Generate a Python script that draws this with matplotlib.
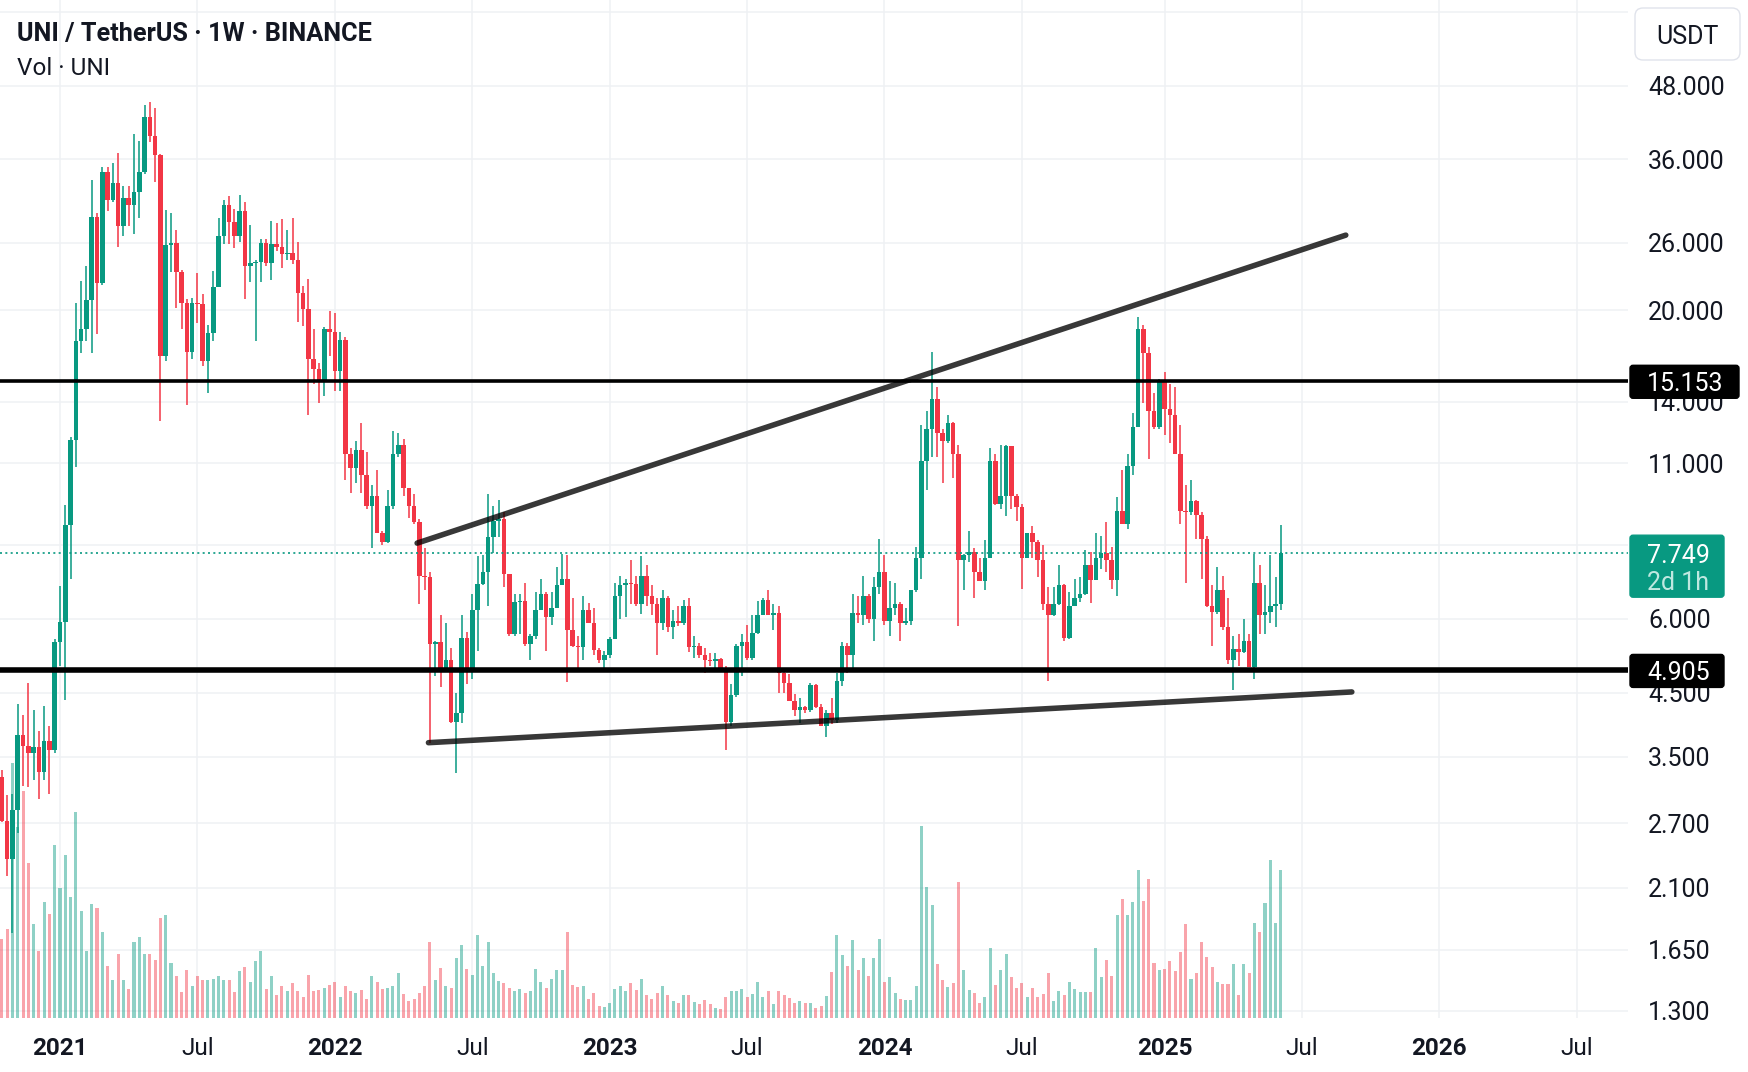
import matplotlib
matplotlib.use("Agg")
import matplotlib.pyplot as plt
import matplotlib.dates as mdates
from matplotlib.patches import FancyBboxPatch
from matplotlib.ticker import NullLocator
import numpy as np
import pandas as pd

W, H = 1748, 1072
PANE_R, PANE_B = 1628, 1018

UP = "#089981"
DOWN = "#F23645"
TXT = "#131722"
GRID = "#eff1f4"

# weekly candles, first bar on 2020-10-19
start = "2020-10-19"

opens = [
    3.24, 2.73, 2.35, 2.84, 3.81, 3.65, 3.55, 3.64, 3.30, 3.73,
    3.60, 5.48, 5.92, 8.65, 12.03, 17.7, 18.6, 20.8, 28.8, 22.2,
    34.3, 30.7, 32.9, 27.8, 31.0, 30.1, 31.7, 34.3, 42.5, 39.4,
    36.6, 16.7, 25.8, 26.0, 23.2, 20.6, 17.0, 20.6, 20.5, 16.4,
    18.3, 21.9, 26.7, 30.2, 28.2, 26.7, 29.4, 23.8, 24.0, 24.1,
    26.0, 24.0, 25.9, 25.6, 24.9, 25.0, 24.3, 21.4, 20.1, 16.5,
    15.9, 15.1, 18.6, 18.4, 15.8, 17.8, 11.4, 10.8, 11.6, 10.5,
    9.3, 9.7, 8.4, 8.1, 9.3, 11.4, 11.8, 10.0, 9.3, 8.75,
    7.09, 7.05, 5.43, 5.48, 4.9, 5.1, 4.01, 4.15, 5.56, 4.9,
    6.2, 6.88, 7.2, 8.25, 8.8, 8.85, 7.15, 5.65, 6.4, 6.42,
    5.43, 5.6, 6.2, 6.6, 6.05, 6.25, 6.85, 7.0, 5.75, 5.4,
    5.37, 6.2, 5.9, 5.32, 5.1, 5.2, 5.55, 6.55, 6.85, 6.9,
    6.88, 6.35, 7.1, 6.55, 6.35, 5.9, 6.5, 5.8, 5.95, 5.9,
    6.3, 5.37, 5.4, 5.2, 5.1, 5.08, 5.12, 4.95, 4.01, 4.45,
    5.4, 5.48, 5.15, 5.68, 6.1, 6.45, 6.1, 6.13, 4.85, 4.67,
    4.36, 4.2, 4.25, 4.2, 4.63, 4.25, 3.95, 4.15, 4.05, 4.7,
    5.4, 5.2, 6.13, 6.08, 6.55, 6.0, 6.8, 7.2, 5.95, 6.25,
    6.35, 5.9, 5.95, 6.7, 7.61, 11.1, 12.6, 14.16, 12.4, 12.0,
    12.9, 11.4, 7.55, 7.7, 7.8, 7.2, 6.95, 7.6, 11.1, 9.38,
    9.7, 11.75, 9.7, 9.28, 7.6, 8.4, 8.1, 7.55, 6.35, 6.1,
    6.35, 6.85, 5.56, 6.3, 6.5, 6.6, 7.4, 6.98, 7.6, 7.75,
    7.55, 6.98, 9.15, 8.7, 10.9, 12.7, 18.6, 16.9, 13.5, 12.7,
    15.1, 13.6, 13.3, 11.4, 9.15, 9.1, 9.5, 9.0, 8.2, 6.3,
    6.15, 6.7, 5.8, 5.1, 5.33, 5.27, 5.5, 4.98, 6.9, 6.1,
    6.17, 6.3, 6.35,
]
highs = [
    3.32, 3.02, 3.03, 4.30, 4.13, 4.67, 4.20, 3.88, 4.27, 3.95,
    5.55, 6.82, 9.36, 12.2, 20.6, 22.4, 23.8, 33.2, 29.2, 35.0,
    35.0, 35.5, 36.9, 32.5, 32.5, 39.8, 38.7, 44.5, 45.1, 44.0,
    36.8, 29.6, 29.2, 27.3, 23.4, 20.9, 21.0, 23.1, 21.3, 18.9,
    23.3, 28.7, 30.7, 31.2, 29.7, 31.4, 30.5, 27.9, 24.3, 26.4,
    26.4, 28.3, 28.1, 28.5, 27.3, 28.6, 26.1, 22.0, 22.6, 18.6,
    16.3, 18.7, 19.9, 19.8, 18.4, 18.0, 11.7, 12.0, 12.9, 11.5,
    10.1, 10.7, 8.45, 9.9, 12.5, 12.4, 12.1, 10.0, 9.75, 8.85,
    7.9, 7.2, 5.5, 6.1, 5.9, 5.35, 4.5, 6.1, 5.7, 6.6,
    7.66, 7.7, 9.76, 9.3, 9.55, 9.1, 7.15, 6.6, 6.6, 6.9,
    5.65, 6.65, 7.0, 6.65, 6.65, 7.35, 7.74, 7.7, 6.5, 5.6,
    6.55, 6.38, 6.25, 5.35, 5.3, 5.58, 6.9, 7.1, 7.0, 7.55,
    7.1, 7.65, 7.4, 6.85, 6.5, 6.7, 6.55, 6.2, 6.3, 6.45,
    6.5, 5.6, 5.45, 5.35, 5.25, 5.25, 5.15, 5.0, 4.65, 5.43,
    5.65, 5.85, 6.1, 6.43, 6.5, 6.7, 6.35, 6.3, 4.95, 4.83,
    4.47, 4.4, 4.27, 4.67, 4.66, 4.3, 4.2, 4.4, 4.85, 5.48,
    5.45, 6.6, 6.55, 7.1, 6.6, 7.05, 8.2, 7.7, 6.95, 6.9,
    6.4, 6.25, 6.7, 7.95, 12.8, 13.5, 17.0, 14.8, 12.6, 13.3,
    12.95, 11.8, 7.72, 8.45, 7.9, 7.6, 8.15, 11.7, 11.4, 11.8,
    11.8, 11.75, 9.75, 9.4, 8.4, 8.6, 8.15, 8.0, 6.8, 6.8,
    7.4, 6.87, 6.65, 7.0, 7.05, 7.85, 7.78, 8.4, 8.3, 8.75,
    7.95, 9.65, 10.7, 11.4, 13.4, 19.5, 18.9, 17.3, 14.5, 15.3,
    15.7, 15.0, 14.8, 12.8, 10.1, 10.3, 9.55, 9.1, 8.3, 6.85,
    7.35, 7.1, 6.5, 5.6, 5.65, 6.0, 5.65, 7.72, 7.4, 6.85,
    7.7, 7.05, 8.65,
]
lows = [
    2.72, 2.20, 1.76, 2.60, 3.13, 3.11, 3.20, 2.97, 3.20, 3.03,
    3.55, 5.00, 4.37, 7.01, 10.86, 16.9, 17.7, 16.9, 18.2, 22.1,
    29.5, 30.5, 25.6, 26.7, 27.8, 26.9, 28.6, 34.0, 38.5, 33.0,
    13.0, 16.4, 23.2, 20.2, 18.6, 13.8, 16.5, 19.0, 16.1, 14.5,
    17.7, 21.9, 25.9, 25.9, 25.5, 26.1, 20.9, 22.3, 17.7, 22.3,
    23.8, 22.5, 25.2, 23.6, 24.3, 23.9, 19.1, 18.8, 13.3, 15.0,
    13.9, 14.3, 16.7, 14.6, 14.6, 10.3, 9.8, 10.2, 9.8, 9.2,
    7.9, 8.4, 8.0, 8.05, 9.2, 11.3, 9.7, 8.9, 8.7, 6.36,
    6.7, 3.70, 4.8, 4.6, 4.9, 4.0, 3.29, 4.0, 4.65, 4.75,
    5.3, 6.85, 6.3, 7.75, 8.25, 6.8, 5.6, 5.6, 5.65, 5.4,
    5.1, 5.55, 6.2, 5.3, 5.85, 6.25, 6.85, 4.69, 5.38, 4.95,
    5.1, 5.9, 5.2, 5.05, 4.9, 5.15, 5.55, 6.0, 6.05, 6.35,
    6.3, 6.12, 6.3, 6.1, 5.2, 5.75, 5.7, 5.55, 5.83, 5.85,
    5.28, 5.15, 5.15, 4.85, 5.0, 4.9, 4.9, 3.6, 3.95, 4.42,
    4.8, 5.1, 5.1, 5.65, 6.08, 6.1, 5.75, 4.5, 4.5, 4.36,
    4.1, 4.0, 4.15, 4.17, 4.24, 3.95, 3.78, 3.98, 4.0, 4.62,
    4.85, 4.9, 5.9, 5.85, 5.9, 5.5, 6.6, 5.85, 5.6, 6.1,
    5.5, 5.85, 5.85, 6.65, 7.0, 9.9, 11.3, 11.3, 10.2, 11.9,
    10.4, 5.83, 6.7, 7.5, 6.5, 6.95, 6.7, 7.6, 9.35, 9.2,
    8.95, 9.2, 8.8, 6.75, 7.6, 7.6, 7.05, 6.2, 4.7, 6.07,
    6.33, 5.5, 5.55, 6.3, 6.4, 6.58, 6.38, 6.98, 7.3, 7.2,
    6.75, 6.56, 8.7, 8.5, 10.5, 12.7, 13.9, 11.2, 12.6, 12.6,
    12.3, 11.9, 11.4, 8.7, 6.9, 8.98, 8.2, 7.0, 6.28, 5.4,
    6.12, 5.75, 5.02, 4.55, 5.0, 5.25, 4.98, 4.75, 5.65, 5.65,
    5.9, 5.8, 6.2,
]
closes = [
    2.73, 2.35, 2.84, 3.81, 3.65, 3.55, 3.64, 3.30, 3.73, 3.60,
    5.48, 5.92, 8.65, 12.03, 17.7, 18.6, 20.8, 28.8, 22.2, 34.3,
    30.7, 32.9, 27.8, 31.0, 30.1, 31.7, 34.3, 42.5, 39.4, 36.6,
    16.7, 25.8, 26.0, 23.2, 20.6, 17.0, 20.6, 20.5, 16.4, 18.3,
    21.9, 26.7, 30.2, 28.2, 26.7, 29.4, 23.8, 24.0, 24.1, 26.0,
    24.0, 25.9, 25.6, 24.9, 25.0, 24.3, 21.4, 20.1, 16.5, 15.9,
    15.1, 18.6, 18.4, 15.8, 17.8, 11.4, 10.8, 11.6, 10.5, 9.3,
    9.7, 8.4, 8.1, 9.3, 11.4, 11.8, 10.0, 9.3, 8.75, 7.09,
    7.05, 5.43, 5.48, 4.9, 5.1, 4.01, 4.15, 5.56, 4.9, 6.2,
    6.88, 7.2, 8.25, 8.8, 8.85, 7.15, 5.65, 6.4, 6.42, 5.43,
    5.6, 6.2, 6.6, 6.05, 6.25, 6.85, 7.0, 5.75, 5.4, 5.37,
    6.2, 5.9, 5.32, 5.1, 5.2, 5.55, 6.55, 6.85, 6.9, 6.88,
    6.35, 7.1, 6.55, 6.35, 5.9, 6.5, 5.8, 5.95, 5.9, 6.3,
    5.37, 5.4, 5.2, 5.1, 5.08, 5.12, 4.95, 4.01, 4.45, 5.4,
    5.48, 5.15, 5.68, 6.1, 6.45, 6.1, 6.13, 4.85, 4.67, 4.36,
    4.2, 4.25, 4.2, 4.63, 4.25, 3.95, 4.15, 4.05, 4.7, 5.4,
    5.2, 6.13, 6.08, 6.55, 6.0, 6.8, 7.2, 5.95, 6.25, 6.35,
    5.9, 5.95, 6.7, 7.61, 11.1, 12.6, 14.16, 12.4, 12.0, 12.9,
    11.4, 7.55, 7.7, 7.8, 7.2, 6.95, 7.6, 11.1, 9.38, 9.7,
    11.75, 9.7, 9.28, 7.6, 8.4, 8.1, 7.55, 6.35, 6.1, 6.35,
    6.85, 5.56, 6.3, 6.5, 6.6, 7.4, 6.98, 7.6, 7.75, 7.55,
    6.98, 9.15, 8.7, 10.9, 12.7, 18.6, 16.9, 13.5, 12.7, 15.1,
    13.6, 13.3, 11.4, 9.15, 9.1, 9.5, 9.0, 8.2, 6.3, 6.15,
    6.7, 5.8, 5.1, 5.33, 5.27, 5.5, 4.98, 6.9, 6.1, 6.17,
    6.3, 6.35, 7.749,
]
# volume, arbitrary units (relative bar heights)
volume = [
    13.2, 15.0, 42.7, 32.0, 38.0, 26.0, 15.7, 11.3, 19.4, 17.4,
    29.0, 21.8, 27.4, 20.3, 34.6, 17.9, 11.3, 19.1, 18.4, 14.5,
    8.8, 6.4, 10.7, 6.4, 4.8, 12.7, 13.5, 10.8, 10.8, 9.7,
    16.8, 17.2, 9.3, 7.1, 4.4, 8.1, 5.4, 7.0, 6.4, 6.4,
    6.6, 7.1, 6.4, 6.4, 4.3, 7.8, 8.6, 6.1, 9.5, 11.3,
    4.8, 7.0, 3.8, 5.3, 4.6, 5.8, 4.6, 3.5, 7.2, 4.5,
    4.7, 5.0, 5.5, 6.0, 3.5, 5.3, 4.5, 4.2, 4.7, 3.2,
    7.0, 6.0, 4.8, 5.0, 5.4, 7.5, 4.0, 2.8, 3.2, 4.2,
    5.4, 12.8, 6.3, 8.4, 5.4, 5.0, 10.0, 12.2, 8.2, 7.2,
    14.0, 8.7, 12.8, 7.5, 6.2, 5.8, 5.0, 4.5, 4.8, 4.2,
    4.5, 8.2, 6.0, 5.0, 6.5, 8.0, 8.0, 14.5, 5.5, 5.2,
    5.4, 3.2, 4.2, 2.0, 1.8, 2.5, 4.8, 5.4, 4.5, 5.8,
    4.7, 6.5, 3.8, 3.2, 4.2, 5.4, 3.8, 2.8, 2.5, 3.8,
    3.8, 2.7, 2.3, 3.0, 2.3, 1.7, 1.5, 3.5, 4.5, 4.5,
    4.8, 3.5, 4.0, 6.0, 3.5, 4.5, 2.3, 4.5, 3.8, 3.3,
    2.5, 2.8, 2.5, 2.5, 1.7, 2.0, 3.7, 7.7, 14.0, 10.5,
    8.8, 13.0, 8.0, 10.0, 7.0, 10.0, 13.3, 6.0, 6.8, 4.2,
    3.2, 3.0, 3.0, 5.3, 32.2, 22.0, 19.0, 9.0, 6.3, 5.2,
    5.8, 22.8, 8.0, 4.7, 4.2, 2.5, 3.5, 11.8, 5.5, 8.0,
    10.7, 6.8, 5.0, 5.8, 3.5, 5.0, 3.5, 4.0, 7.6, 2.8,
    4.5, 3.8, 6.0, 4.8, 4.3, 4.3, 4.3, 11.7, 6.8, 9.8,
    7.0, 17.2, 20.0, 17.2, 19.5, 24.8, 19.7, 23.3, 9.3, 8.0,
    8.2, 9.5, 7.8, 11.0, 15.7, 6.6, 7.5, 12.8, 10.2, 8.6,
    6.0, 5.7, 5.7, 9.0, 3.8, 9.0, 7.6, 16.0, 14.5, 19.2,
    26.5, 16.0, 24.8,
]

# labelled price ticks; 8 and 64 only carry grid lines (their labels are covered)
price_ticks = [48, 36, 26, 20, 14, 11, 6, 4.5, 3.5, 2.7, 2.1, 1.65, 1.3]
grid_prices = [64, 8] + price_ticks
time_ticks = ["2021-01-04", "2021-07-05", "2022-01-03", "2022-07-04",
              "2023-01-02", "2023-07-03", "2024-01-01", "2024-07-01",
              "2025-01-06", "2025-07-07", "2026-01-05", "2026-07-06"]
time_labels = ["2021", "Jul", "2022", "Jul", "2023", "Jul", "2024", "Jul",
               "2025", "Jul", "2026", "Jul"]

resistance = 15.153
support = 4.905
last_price = 7.749
upper_trend = (["2022-04-22", "2025-09-03"], [8.06, 26.8])
lower_trend = (["2022-05-07", "2025-09-11"], [3.70, 4.51])

dates = pd.date_range(start, periods=len(closes), freq="7D")
o = np.array(opens)
h = np.array(highs)
l = np.array(lows)
c = np.array(closes)
up = c >= o
cols = np.where(up, UP, DOWN)

x0 = mdates.date2num(pd.Timestamp(start))
xlim = (x0 - 2.48, x0 + 2153.8)
ylim = (1.264, 67.07)

fig = plt.figure(figsize=(W / 100, H / 100), dpi=100)
rect = [0, 1 - PANE_B / H, PANE_R / W, PANE_B / H]

# grid layer
axg = fig.add_axes(rect)
axg.set_yscale("log")
axg.set_xlim(xlim)
axg.set_ylim(ylim)
for p in grid_prices:
    axg.axhline(p, color=GRID, lw=1.1)
for d in time_ticks:
    axg.axvline(pd.Timestamp(d), color=GRID, lw=1.1)
axg.axis("off")

# volume layer
axv = fig.add_axes(rect)
axv.patch.set_visible(False)
axv.bar(dates, volume, width=4.0, color=cols, alpha=0.45, linewidth=0)
axv.set_xlim(xlim)
axv.set_ylim(0, 170.7)
axv.axis("off")

# price layer
ax = fig.add_axes(rect)
ax.patch.set_visible(False)
ax.set_yscale("log")
ax.vlines(dates, l, h, colors=cols, linewidth=1.1, zorder=2)
ax.bar(dates, np.abs(c - o), bottom=np.minimum(o, c), width=6.0,
       color=cols, linewidth=0, zorder=3)

ax.axhline(resistance, color="black", lw=2.6, zorder=5)
ax.axhline(support, color="black", lw=4.0, zorder=5)
for xs, ys in (upper_trend, lower_trend):
    ax.plot(pd.to_datetime(xs), ys, color="black", alpha=0.78, lw=4.0,
            solid_capstyle="round", zorder=6)
ax.axhline(last_price, color=UP, lw=1.2, linestyle=(0, (1.2, 2.0)), zorder=4)

ax.set_xlim(xlim)
ax.set_ylim(ylim)
for s in ax.spines.values():
    s.set_visible(False)
ax.yaxis.tick_right()
ax.set_yticks(price_ticks)
ax.set_yticklabels([f"{t:.3f}" for t in price_ticks])
ax.yaxis.set_minor_locator(NullLocator())
ax.tick_params(axis="y", length=0, pad=14.4, labelsize=18, labelcolor=TXT)
for t in ax.get_yticklabels():
    t.set_fontfamily("Roboto")

ax.set_xticks(pd.to_datetime(time_ticks))
ax.set_xticklabels(time_labels)
ax.xaxis.set_minor_locator(NullLocator())
ax.tick_params(axis="x", length=0, pad=14, labelsize=17.5, labelcolor=TXT)
for t, lab in zip(ax.get_xticklabels(), time_labels):
    t.set_fontfamily("Roboto")
    if lab != "Jul":
        t.set_fontweight("bold")

# overlay in pixel coordinates for price-axis badges
axo = fig.add_axes([0, 0, 1, 1])
axo.set_xlim(0, W)
axo.set_ylim(H, 0)
axo.axis("off")
axo.patch.set_visible(False)


def ypix(price):
    return H - ax.transData.transform((xlim[0], price))[1]


def badge(x1, x2, y1, y2, fc, ec=None, r=3):
    axo.add_patch(FancyBboxPatch((x1 + r, y1 + r), x2 - x1 - 2 * r, y2 - y1 - 2 * r,
                                 boxstyle=f"round,pad={r}", fc=fc,
                                 ec=ec if ec else fc, lw=1))


yr = ypix(resistance)
badge(1630, 1739, yr - 16, yr + 17, "black")
axo.text(1647, yr, f"{resistance:.3f}", color="white", fontsize=18,
         family="Roboto", va="center_baseline", ha="left")

ys = ypix(support)
badge(1630, 1724, ys - 16, ys + 17, "black")
axo.text(1647, ys, f"{support:.3f}", color="white", fontsize=18,
         family="Roboto", va="center_baseline", ha="left")

yl = ypix(last_price)
badge(1630, 1724, yl - 18, yl + 44, UP)
axo.text(1647, yl, f"{last_price:.3f}", color="white", fontsize=18,
         family="Roboto", va="center_baseline", ha="left")
axo.text(1647, yl + 27, "2d 1h", color="#bfe8e0", fontsize=18,
         family="Roboto", va="center_baseline", ha="left")

badge(1635, 1740, 8, 60, "white", ec="#e0e3eb", r=8)
axo.text(1687, 34, "USDT", color=TXT, fontsize=18, family="Roboto",
         va="center_baseline", ha="center")

axo.text(17, 41, "UNI / TetherUS · 1W · BINANCE", color=TXT, fontsize=18.2,
         family="Roboto", weight="bold", va="baseline", ha="left")
axo.text(17, 75, "Vol · UNI", color=TXT, fontsize=17.5, family="Roboto",
         va="baseline", ha="left")

fig.savefig("out.png", dpi=100, facecolor="white")
